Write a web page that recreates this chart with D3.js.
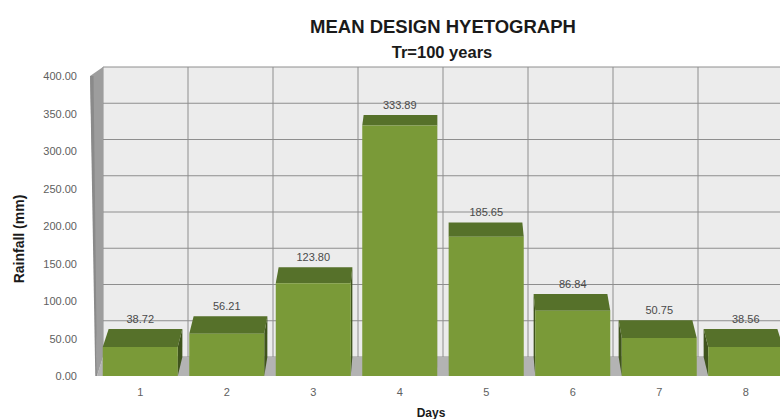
<!DOCTYPE html>
<html lang="en">
<head>
<meta charset="utf-8">
<title>Mean design hyetograph</title>
<script src="https://cdn.jsdelivr.net/npm/d3@7"></script>
<style>
  body { margin: 0; background: #fff; }
  text { font-family: "Liberation Sans", Arial, sans-serif; }
</style>
</head>
<body>
<script>
// chart data
var days = ["1", "2", "3", "4", "5", "6", "7", "8"];
var rainfall = [38.72, 56.21, 123.80, 333.89, 185.65, 86.84, 50.75, 38.56];
var yTicks = [0, 50, 100, 150, 200, 250, 300, 350, 400];

var w = 780, h = 419;

var svg = d3.select("body").append("svg")
    .attr("width", w)
    .attr("height", h);

// front plane and back plane scales, depth z goes 0 (front) .. 1 (back)
var xFront = d3.scaleLinear().domain([0, 8]).range([97, 789]);
var xBack = d3.scaleLinear().domain([0, 8]).range([103, 783]);
var yFront = d3.scaleLinear().domain([0, 400]).range([376, 76]);
var yBack = d3.scaleLinear().domain([0, 400]).range([357, 67]);

// bars in category units
var band = d3.scaleBand().domain(days).range([0, 8]).paddingInner(0.133).paddingOuter(0.0665);

function proj(u, v, z) {
    var xf = xFront(u), xb = xBack(u);
    var yf = yFront(v), yb = yBack(v);
    return [xf + (xb - xf) * z, yf + (yb - yf) * z];
}
var line = d3.line();
function poly(pts) { return line(pts) + "Z"; }

// back wall
svg.append("path")
    .attr("d", poly([proj(0, 0, 1), proj(8, 0, 1), proj(8, 400, 1), proj(0, 400, 1)]))
    .attr("fill", "#ececec");

// gridlines on back wall
svg.selectAll("line.hgrid")
    .data(yTicks)
    .enter()
    .append("line")
    .attr("class", "hgrid")
    .attr("x1", function(d) { return proj(0, d, 1)[0]; })
    .attr("y1", function(d) { return proj(0, d, 1)[1]; })
    .attr("x2", function(d) { return proj(8, d, 1)[0]; })
    .attr("y2", function(d) { return proj(8, d, 1)[1]; })
    .attr("stroke", "#8e8e8e")
    .attr("stroke-width", 1);

svg.selectAll("line.vgrid")
    .data(d3.range(0, 9))
    .enter()
    .append("line")
    .attr("class", "vgrid")
    .attr("x1", function(d) { return proj(d, 0, 1)[0]; })
    .attr("y1", function(d) { return proj(d, 0, 1)[1]; })
    .attr("x2", function(d) { return proj(d, 400, 1)[0]; })
    .attr("y2", function(d) { return proj(d, 400, 1)[1]; })
    .attr("stroke", "#8e8e8e")
    .attr("stroke-width", 1);

// floor
svg.append("path")
    .attr("d", poly([proj(0, 0, 0), proj(8, 0, 0), proj(8, 0, 1), proj(0, 0, 1)]))
    .attr("fill", "#b3b3b3");

// left side wall (with a bit of thickness)
svg.append("path")
    .attr("d", poly([proj(0, 0, 1), proj(0, 400, 1), proj(-0.08, 400, 0), proj(0, 0, 0)]))
    .attr("fill", "#9d9d9d");
svg.append("path")
    .attr("d", poly([proj(-0.08, 400, 0), proj(-0.04, 400, 0), proj(0, 0, 0), proj(-0.02, 0, 0)]))
    .attr("fill", "#8a8a8a");

// bars, outer ones first
var bars = rainfall.map(function(v, i) {
    var u0 = band(days[i]), u1 = u0 + band.bandwidth();
    return { v: v, u0: u0, u1: u1, mid: (u0 + u1) / 2 };
});
var order = bars.slice().sort(function(a, b) {
    return Math.abs(b.mid - 4) - Math.abs(a.mid - 4);
});

var gBars = svg.append("g");
order.forEach(function(b) {
    var g = gBars.append("g");
    var zb = 1;
    // side face
    var rightShift = proj(b.u1, b.v, zb)[0] - proj(b.u1, b.v, 0)[0];
    var leftShift = proj(b.u0, b.v, zb)[0] - proj(b.u0, b.v, 0)[0];
    if (rightShift > 0) {
        g.append("path")
            .attr("d", poly([proj(b.u1, 0, 0), proj(b.u1, b.v, 0), proj(b.u1, b.v, zb), proj(b.u1, 0, zb)]))
            .attr("fill", "#3f541c");
    }
    if (leftShift < 0) {
        g.append("path")
            .attr("d", poly([proj(b.u0, 0, 0), proj(b.u0, b.v, 0), proj(b.u0, b.v, zb), proj(b.u0, 0, zb)]))
            .attr("fill", "#3f541c");
    }
    // top face
    g.append("path")
        .attr("d", poly([proj(b.u0, b.v, 0), proj(b.u1, b.v, 0), proj(b.u1, b.v, zb), proj(b.u0, b.v, zb)]))
        .attr("fill", "#56712a");
    // front face
    g.append("path")
        .attr("d", poly([proj(b.u0, 0, 0), proj(b.u1, 0, 0), proj(b.u1, b.v, 0), proj(b.u0, b.v, 0)]))
        .attr("fill", "#7a9a38");
});

// data labels
svg.selectAll("text.val")
    .data(bars)
    .enter()
    .append("text")
    .attr("class", "val")
    .attr("x", function(d) { return proj(d.mid, d.v, 0)[0]; })
    .attr("y", function(d) { return proj(d.mid, d.v, 1)[1] - 6; })
    .attr("text-anchor", "middle")
    .attr("font-size", "11px")
    .attr("fill", "#4a4a4a")
    .text(function(d) { return d3.format(".2f")(d.v); });

// y axis labels on the front edge
var yAxis = d3.axisLeft(yFront)
    .tickValues(yTicks)
    .tickFormat(d3.format(".2f"))
    .tickSize(0)
    .tickPadding(3);
var gy = svg.append("g")
    .attr("transform", "translate(80,0)")
    .call(yAxis);
gy.select(".domain").remove();
gy.selectAll("text")
    .attr("font-family", "Liberation Sans, Arial, sans-serif")
    .attr("font-size", "11px")
    .attr("fill", "#606060");

// category labels
var xCat = d3.scaleBand().domain(days).range([xFront(0), xFront(8)]);
var xAxis = d3.axisBottom(xCat).tickSize(0).tickPadding(12);
var gx = svg.append("g")
    .attr("transform", "translate(0," + yFront(0) + ")")
    .call(xAxis);
gx.select(".domain").remove();
gx.selectAll("text")
    .attr("font-family", "Liberation Sans, Arial, sans-serif")
    .attr("font-size", "11px")
    .attr("fill", "#606060");

// titles
svg.append("text")
    .attr("x", 443)
    .attr("y", 33)
    .attr("text-anchor", "middle")
    .attr("font-size", "18.5px")
    .attr("font-weight", "bold")
    .attr("fill", "#1a1a1a")
    .text("MEAN DESIGN HYETOGRAPH");

svg.append("text")
    .attr("x", 442)
    .attr("y", 58)
    .attr("text-anchor", "middle")
    .attr("font-size", "16.5px")
    .attr("font-weight", "bold")
    .attr("fill", "#1a1a1a")
    .text("Tr=100 years");

svg.append("text")
    .attr("transform", "translate(24,239) rotate(-90)")
    .attr("text-anchor", "middle")
    .attr("font-size", "14px")
    .attr("font-weight", "bold")
    .attr("fill", "#1a1a1a")
    .text("Rainfall (mm)");

svg.append("text")
    .attr("x", 431)
    .attr("y", 417)
    .attr("text-anchor", "middle")
    .attr("font-size", "12px")
    .attr("font-weight", "bold")
    .attr("fill", "#1a1a1a")
    .text("Days");
</script>
</body>
</html>
